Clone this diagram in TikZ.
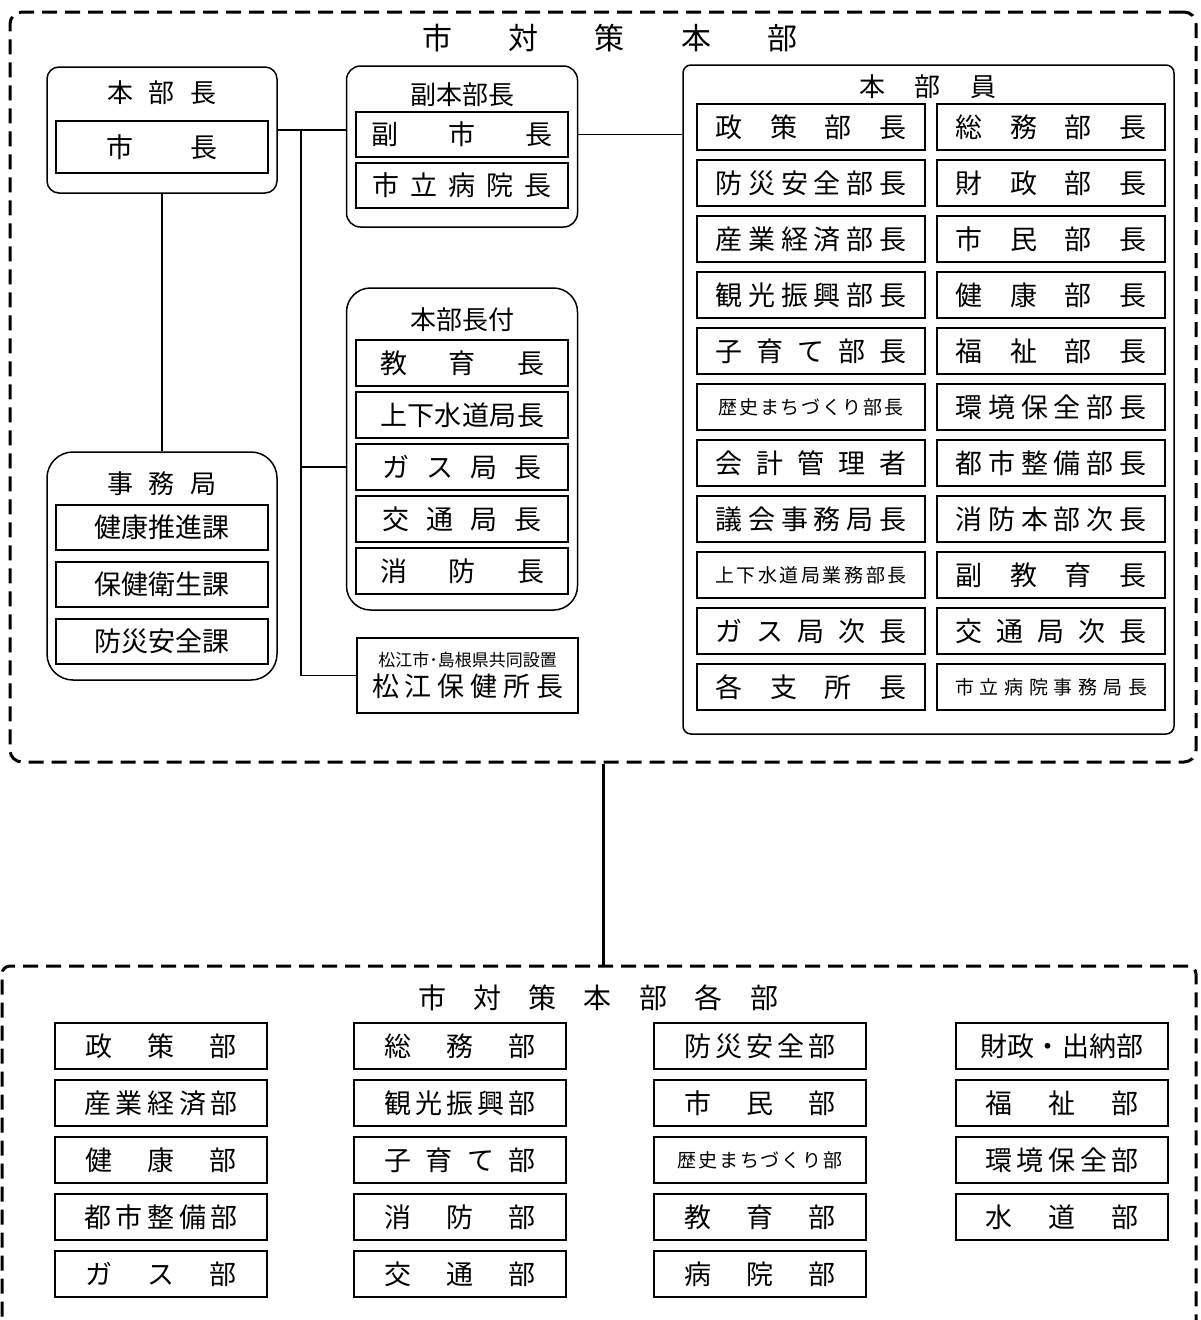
\documentclass[tikz,border=0pt]{standalone}
\usepackage{fontspec}
\setmainfont{Noto Sans CJK JP}
\usetikzlibrary{positioning}
% spread the characters of #2 evenly over #1 pt
\newcommand{\kintou}[2]{\makebox[#1pt][s]{\expandafter\ktspread#2\relax}}
\def\ktspread#1#2{#1\ifx#2\relax\else\hfil\expandafter\ktspread\expandafter#2\fi}
\tikzset{
  hqbox/.style     = {draw, line width=3pt, dash pattern=on 15pt off 8pt,
                      rounded corners=12pt, inner sep=0pt},
  grpbox/.style    = {draw, line width=1.5pt, inner sep=0pt},
  grptitle/.style  = {inner sep=0pt, font=\fontsize{26}{28}\selectfont},
  postbox/.style   = {draw, line width=2pt, minimum width=212pt,
                      minimum height=46pt, inner sep=0pt,
                      font=\fontsize{27}{30}\selectfont},
  wpostbox/.style  = {postbox, minimum width=228pt},
  smallpost/.style = {font=\fontsize{19}{22}\selectfont},
  link/.style      = {line width=1.5pt},
  trunk/.style     = {line width=3pt},
}
\begin{document}
\begin{tikzpicture}[x=1pt, y=-1pt, node distance=8pt and 10pt]
  \useasboundingbox (0,0) rectangle (1200,1320);
  \clip (0,0) rectangle (1200,1320);
  % upper frame
  \node[hqbox, minimum width=1186pt, minimum height=750pt] (hq) at (603,387) {};
  \node[grptitle, font=\fontsize{30}{32}\selectfont] (hqtitle) at (610,38) {\kintou{376}{市対策本部}};
  % chief
  \node[grpbox, rounded corners=12pt, minimum width=230pt, minimum height=126pt] (chief) at (162,130) {};
  \node[grptitle] (chieftitle) at (162,93) {\kintou{110}{本部長}};
  \node[postbox, minimum height=52pt] (mayor) at (162,147) {\kintou{112}{市長}};
  % office
  \node[grpbox, rounded corners=26pt, minimum width=230pt, minimum height=228pt] (office) at (162,566) {};
  \node[grptitle] (officetitle) at (162,484) {\kintou{110}{事務局}};
  \node[postbox, minimum height=45pt] (kenko) at (162,527) {健康推進課};
  \node[postbox, minimum height=45pt, below=10pt of kenko] (hoei) {保健衛生課};
  \node[postbox, minimum height=45pt, below=10pt of hoei] (bosaika) {防災安全課};
  % deputy
  \node[grpbox, rounded corners=14pt, minimum width=231pt, minimum height=161pt] (deputy) at (462,146.5) {};
  \node[grptitle] (deputytitle) at (462,95) {副本部長};
  \node[postbox, minimum height=45pt] (vmayor) at (462,134.5) {\kintou{181}{副市長}};
  \node[postbox, minimum height=45pt, below=4pt of vmayor] (hospdir) {\kintou{179}{市立病院長}};
  % aides
  \node[grpbox, rounded corners=24pt, minimum width=231pt, minimum height=322pt] (aide) at (462,449) {};
  \node[grptitle] (aidetitle) at (462,320) {本部長付};
  \node[postbox] (edu) at (462,363) {\kintou{164}{教育長}};
  \node[postbox, below=4pt of edu] (water) {\kintou{164}{上下水道局長}};
  \node[postbox, below=4pt of water] (gas) {\kintou{160}{ガス局長}};
  \node[postbox, below=4pt of gas] (transit) {\kintou{160}{交通局長}};
  \node[postbox, below=4pt of transit] (fire) {\kintou{164}{消防長}};
  % health centre
  \node[postbox, minimum width=221pt, minimum height=75pt, align=center] (hoken) at (467.5,675.5)
    {{\fontsize{17}{20}\selectfont 松江市･島根県共同設置}\\\kintou{191}{松江保健所長}};
  % members
  \node[grpbox, rounded corners=8pt, minimum width=491pt, minimum height=669pt] (members) at (928.5,399.5) {};
  \node[grptitle] (membtitle) at (928,87) {\kintou{137}{本部員}};
  \node[wpostbox] (seisaku) at (811,127) {\kintou{191}{政策部長}};
  \node[wpostbox, right=of seisaku] (somu) {\kintou{191}{総務部長}};
  \node[wpostbox, below=of seisaku] (bosai) {\kintou{191}{防災安全部長}};
  \node[wpostbox, right=of bosai] (zaisei) {\kintou{191}{財政部長}};
  \node[wpostbox, below=of bosai] (sangyo) {\kintou{191}{産業経済部長}};
  \node[wpostbox, right=of sangyo] (shimin) {\kintou{191}{市民部長}};
  \node[wpostbox, below=of sangyo] (kanko) {\kintou{191}{観光振興部長}};
  \node[wpostbox, right=of kanko] (kenkob) {\kintou{191}{健康部長}};
  \node[wpostbox, below=of kanko] (kosodate) {\kintou{191}{子育て部長}};
  \node[wpostbox, right=of kosodate] (fukushi) {\kintou{191}{福祉部長}};
  \node[wpostbox, smallpost, below=of kosodate] (rekishi) {\kintou{185}{歴史まちづくり部長}};
  \node[wpostbox, right=of rekishi] (kankyo) {\kintou{191}{環境保全部長}};
  \node[wpostbox, below=of rekishi] (kaikei) {\kintou{191}{会計管理者}};
  \node[wpostbox, right=of kaikei] (toshi) {\kintou{191}{都市整備部長}};
  \node[wpostbox, below=of kaikei] (gikai) {\kintou{191}{議会事務局長}};
  \node[wpostbox, right=of gikai] (shobo) {\kintou{191}{消防本部次長}};
  \node[wpostbox, smallpost, below=of gikai] (suido) {\kintou{191}{上下水道局業務部長}};
  \node[wpostbox, right=of suido] (fukukyo) {\kintou{191}{副教育長}};
  \node[wpostbox, below=of suido] (gasu) {\kintou{191}{ガス局次長}};
  \node[wpostbox, right=of gasu] (kotsu) {\kintou{191}{交通局次長}};
  \node[wpostbox, below=of gasu] (shisho) {\kintou{191}{各支所長}};
  \node[wpostbox, smallpost, right=of shisho] (byoin) {\kintou{192}{市立病院事務局長}};
  % connectors, upper frame
  \coordinate (jt) at ([xshift=23pt]chief.east);
  \draw[link] (chief.east) -- (chief.east -| deputy.west);
  \draw[link] (vmayor.east -| deputy.east) -- (vmayor.east -| members.west);
  \draw[link] (jt) |- (gas -| aide.west);
  \draw[link] (jt) |- (hoken.west);
  \draw[link] (chief.south) -- (office.north);
  % lower frame
  \node[hqbox, rounded corners=8pt, minimum width=1194pt, minimum height=400pt] (depts) at (599,1166) {};
  \node[grptitle, font=\fontsize{28}{30}\selectfont] (deptstitle) at (598,998) {\kintou{360}{市対策本部各部}};
  \node[postbox] (d-seisaku) at (161,1046) {\kintou{152}{政策部}};
  \node[postbox, below=9pt of d-seisaku] (d-sangyo) {\kintou{154}{産業経済部}};
  \node[postbox, below=9pt of d-sangyo] (d-kenko) {\kintou{152}{健康部}};
  \node[postbox, below=9pt of d-kenko] (d-toshi) {\kintou{154}{都市整備部}};
  \node[postbox, below=9pt of d-toshi] (d-gasu) {\kintou{152}{ガス部}};
  \node[postbox] (d-somu) at (460,1046) {\kintou{152}{総務部}};
  \node[postbox, below=9pt of d-somu] (d-kanko) {\kintou{152}{観光振興部}};
  \node[postbox, below=9pt of d-kanko] (d-kosodate) {\kintou{152}{子育て部}};
  \node[postbox, below=9pt of d-kosodate] (d-shobo) {\kintou{152}{消防部}};
  \node[postbox, below=9pt of d-shobo] (d-kotsu) {\kintou{152}{交通部}};
  \node[postbox] (d-bosai) at (760,1046) {\kintou{152}{防災安全部}};
  \node[postbox, below=9pt of d-bosai] (d-shimin) {\kintou{152}{市民部}};
  \node[postbox, smallpost, below=9pt of d-shimin] (d-rekishi) {\kintou{165}{歴史まちづくり部}};
  \node[postbox, below=9pt of d-rekishi] (d-kyoiku) {\kintou{152}{教育部}};
  \node[postbox, below=9pt of d-kyoiku] (d-byoin) {\kintou{152}{病院部}};
  \node[postbox] (d-zaisei) at (1062,1046) {\kintou{163}{財政・出納部}};
  \node[postbox, below=9pt of d-zaisei] (d-fukushi) {\kintou{153}{福祉部}};
  \node[postbox, below=9pt of d-fukushi] (d-kankyo) {\kintou{153}{環境保全部}};
  \node[postbox, below=9pt of d-kankyo] (d-suido) {\kintou{153}{水道部}};
  % link between frames
  \draw[trunk] (hq.south) -- (hq.south |- depts.north);
\end{tikzpicture}
\end{document}
